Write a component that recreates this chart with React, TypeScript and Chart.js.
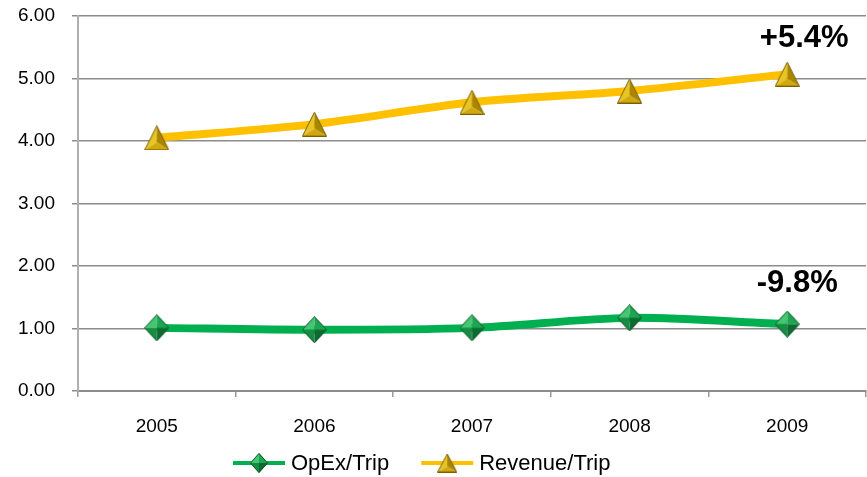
import React, { useEffect, useRef } from "react";
import { Chart, registerables } from "chart.js";
Chart.register(...registerables);

const years = ["2005", "2006", "2007", "2008", "2009"];
const opexPerTrip = [1.01, 0.98, 1.01, 1.17, 1.07];
const revenuePerTrip = [4.05, 4.27, 4.62, 4.8, 5.07];
const seriesLabels = ["OpEx/Trip", "Revenue/Trip"];
const changeLabels = ["-9.8%", "+5.4%"];

const FONT = "'Liberation Sans', Arial, sans-serif";

function makeDiamond(w: number, h: number): HTMLCanvasElement {
  const c = document.createElement("canvas");
  c.width = w;
  c.height = h;
  const g = c.getContext("2d")!;
  const cx = w / 2, cy = h / 2;
  const facets: [number, number, number, number, string][] = [
    [cx, 0, 0, cy, "#45c673"],
    [cx, 0, w, cy, "#1ea552"],
    [0, cy, cx, h, "#178c43"],
    [w, cy, cx, h, "#0d6a31"],
  ];
  facets.forEach(([x1, y1, x2, y2, col]) => {
    g.beginPath();
    g.moveTo(cx, cy);
    g.lineTo(x1, y1);
    g.lineTo(x2, y2);
    g.closePath();
    g.fillStyle = col;
    g.fill();
  });
  g.beginPath();
  g.moveTo(cx, 0.5);
  g.lineTo(w - 0.5, cy);
  g.lineTo(cx, h - 0.5);
  g.lineTo(0.5, cy);
  g.closePath();
  g.strokeStyle = "#0b5e2b";
  g.lineWidth = 1;
  g.stroke();
  return c;
}

function makeTriangle(w: number, h: number): HTMLCanvasElement {
  const c = document.createElement("canvas");
  c.width = w;
  c.height = h;
  const g = c.getContext("2d")!;
  const ax = w / 2, ay = 0.5;
  const lx = 0.5, ly = h - 0.5;
  const rx = w - 0.5, ry = h - 0.5;
  const cx = w / 2, cy = h * 0.68;
  const facets: [number, number, number, number, string][] = [
    [ax, ay, lx, ly, "#e9c425"],
    [ax, ay, rx, ry, "#a98500"],
    [lx, ly, rx, ry, "#d2a810"],
  ];
  facets.forEach(([x1, y1, x2, y2, col]) => {
    g.beginPath();
    g.moveTo(cx, cy);
    g.lineTo(x1, y1);
    g.lineTo(x2, y2);
    g.closePath();
    g.fillStyle = col;
    g.fill();
  });
  g.beginPath();
  g.moveTo(ax, ay);
  g.lineTo(rx, ry);
  g.lineTo(lx, ly);
  g.closePath();
  g.strokeStyle = "#7a6000";
  g.lineWidth = 1;
  g.stroke();
  return c;
}

export default function App() {
  const ref = useRef<HTMLCanvasElement>(null);

  useEffect(() => {
    document.body.style.margin = "0";
    const diamond = makeDiamond(25, 27);
    const triangle = makeTriangle(25, 25);
    const diamondSmall = makeDiamond(18, 20);
    const triangleSmall = makeTriangle(20, 19);

    const annotations = {
      id: "annotations",
      afterDatasetsDraw(chart: any) {
        const ctx = chart.ctx;
        ctx.save();
        ctx.font = `bold 31px ${FONT}`;
        ctx.fillStyle = "#000";
        ctx.textAlign = "center";
        ctx.textBaseline = "alphabetic";
        const offsets = [
          [10, -32],
          [17, -27],
        ];
        [0, 1].forEach((di) => {
          const meta = chart.getDatasetMeta(di);
          const pt = meta.data[meta.data.length - 1];
          ctx.fillText(changeLabels[di], pt.x + offsets[di][0], pt.y + offsets[di][1]);
        });
        ctx.restore();
      },
      afterDraw(chart: any) {
        const ctx = chart.ctx;
        ctx.save();
        ctx.font = `22px ${FONT}`;
        ctx.textBaseline = "middle";
        ctx.fillStyle = "#000";
        const y = 463;
        let x = 233;
        const items = [
          { color: "#00b050", img: diamondSmall, text: seriesLabels[0] },
          { color: "#ffc000", img: triangleSmall, text: seriesLabels[1] },
        ];
        items.forEach((it) => {
          ctx.strokeStyle = it.color;
          ctx.lineWidth = 4;
          ctx.beginPath();
          ctx.moveTo(x, y);
          ctx.lineTo(x + 52, y);
          ctx.stroke();
          ctx.drawImage(it.img, x + 26 - it.img.width / 2, y - it.img.height / 2);
          ctx.fillText(it.text, x + 58, y + 1);
          x += 58 + ctx.measureText(it.text).width + 32;
        });
        ctx.restore();
      },
    };

    const chart = new Chart(ref.current!, {
      type: "line",
      data: {
        labels: years,
        datasets: [
          {
            label: seriesLabels[0],
            data: opexPerTrip,
            borderColor: "#00b050",
            backgroundColor: "#00b050",
            borderWidth: 8,
            tension: 0.3,
            pointStyle: diamond,
            pointRadius: 12,
          },
          {
            label: seriesLabels[1],
            data: revenuePerTrip,
            borderColor: "#ffc000",
            backgroundColor: "#ffc000",
            borderWidth: 8,
            tension: 0.3,
            pointStyle: triangle,
            pointRadius: 12,
          },
        ],
      },
      options: {
        animation: false,
        responsive: false,
        events: [],
        layout: { autoPadding: false, padding: { top: 16, right: 1, left: 0, bottom: 0 } },
        plugins: {
          legend: { display: false },
          tooltip: { enabled: false },
        },
        scales: {
          x: {
            offset: true,
            grid: {
              offset: true,
              drawOnChartArea: false,
              drawTicks: true,
              tickLength: 6,
              color: "#999999",
              lineWidth: 1.5,
            },
            border: { color: "#8c8c8c", width: 2 },
            ticks: {
              color: "#000",
              padding: 18,
              font: { family: FONT, size: 19 },
            },
            afterFit(s: any) {
              s.height = 86;
              s.paddingLeft = 0;
              s.paddingRight = 0;
            },
          },
          y: {
            min: 0,
            max: 6,
            ticks: {
              stepSize: 1,
              color: "#000",
              padding: 17,
              font: { family: FONT, size: 19 },
              callback: (v: any) => Number(v).toFixed(2),
            },
            grid: {
              color: "#8c8c8c",
              lineWidth: 1.5,
              tickLength: 6,
            },
            border: { color: "#b0b0b0", width: 2 },
            afterFit(s: any) {
              s.width = 78;
              s.paddingTop = 0;
              s.paddingBottom = 0;
            },
          },
        },
      },
      plugins: [annotations],
    });
    return () => chart.destroy();
  }, []);

  return (
    <div style={{ position: "fixed", left: 0, top: 0, width: 867, height: 477, background: "#fff" }}>
      <canvas ref={ref} width={867} height={477} style={{ width: 867, height: 477 }} />
    </div>
  );
}
